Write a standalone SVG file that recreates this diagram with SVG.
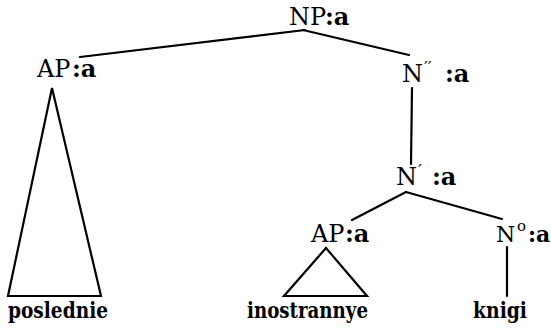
<svg xmlns="http://www.w3.org/2000/svg" width="551" height="331" viewBox="0 0 551 331">
<style>
.lbl{font-size:24px;fill:#000}
.b{font-weight:bold}
.sup{font-size:17px}
.word{font-size:23px;font-weight:bold;fill:#000}
.edge{stroke:#000;stroke-width:2.2;fill:none;stroke-linecap:round;stroke-linejoin:miter}
</style>
<rect width="551" height="331" fill="#fff"/>
<g id="connectors">
<line class="edge" x1="305" y1="30" x2="80" y2="57"/>
<line class="edge" x1="303" y1="30" x2="409" y2="55"/>
<line class="edge" x1="412" y1="88" x2="411" y2="164"/>
<line class="edge" x1="406" y1="192" x2="352" y2="220"/>
<line class="edge" x1="406" y1="192" x2="502" y2="219"/>
<line class="edge" x1="507" y1="247" x2="507" y2="296"/>
</g>
<g font-family="'DejaVu Serif', 'Liberation Serif', serif">
<g id="NP">
<text class="lbl" x="289" y="25">NP<tspan class="b" x="325">:a</tspan></text>
</g>
<g id="AP1">
<text class="lbl" x="37" y="77">AP<tspan class="b" x="72">:a</tspan></text>
<polygon class="edge" points="52,88 8,296 101,296"/>
</g>
<g id="poslednie">
<text class="word" x="8" y="318" textLength="100" lengthAdjust="spacingAndGlyphs">poslednie</text>
</g>
<g id="N2">
<text class="lbl" x="402" y="82">N<tspan class="sup" dy="-9" x="424">′′</tspan><tspan class="b" x="445" dy="9">:a</tspan></text>
</g>
<g id="N1">
<text class="lbl" x="396" y="185">N<tspan class="sup" dy="-9" x="418">′</tspan><tspan class="b" x="432" dy="9">:a</tspan></text>
</g>
<g id="AP2">
<text class="lbl" x="311" y="242">AP<tspan class="b" x="345">:a</tspan></text>
<polygon class="edge" points="326,248 284,296 367,296"/>
</g>
<g id="inostrannye">
<text class="word" x="247" y="318" textLength="121" lengthAdjust="spacingAndGlyphs">inostrannye</text>
</g>
<g id="N0">
<text class="lbl" x="496" y="242" style="font-size:22px">N<tspan class="sup" dy="-11" x="517" style="font-size:15px">o</tspan><tspan class="b" dy="11" x="528">:a</tspan></text>
</g>
<g id="knigi">
<text class="word" x="473" y="318" textLength="54" lengthAdjust="spacingAndGlyphs">knigi</text>
</g>
</g>
</svg>
